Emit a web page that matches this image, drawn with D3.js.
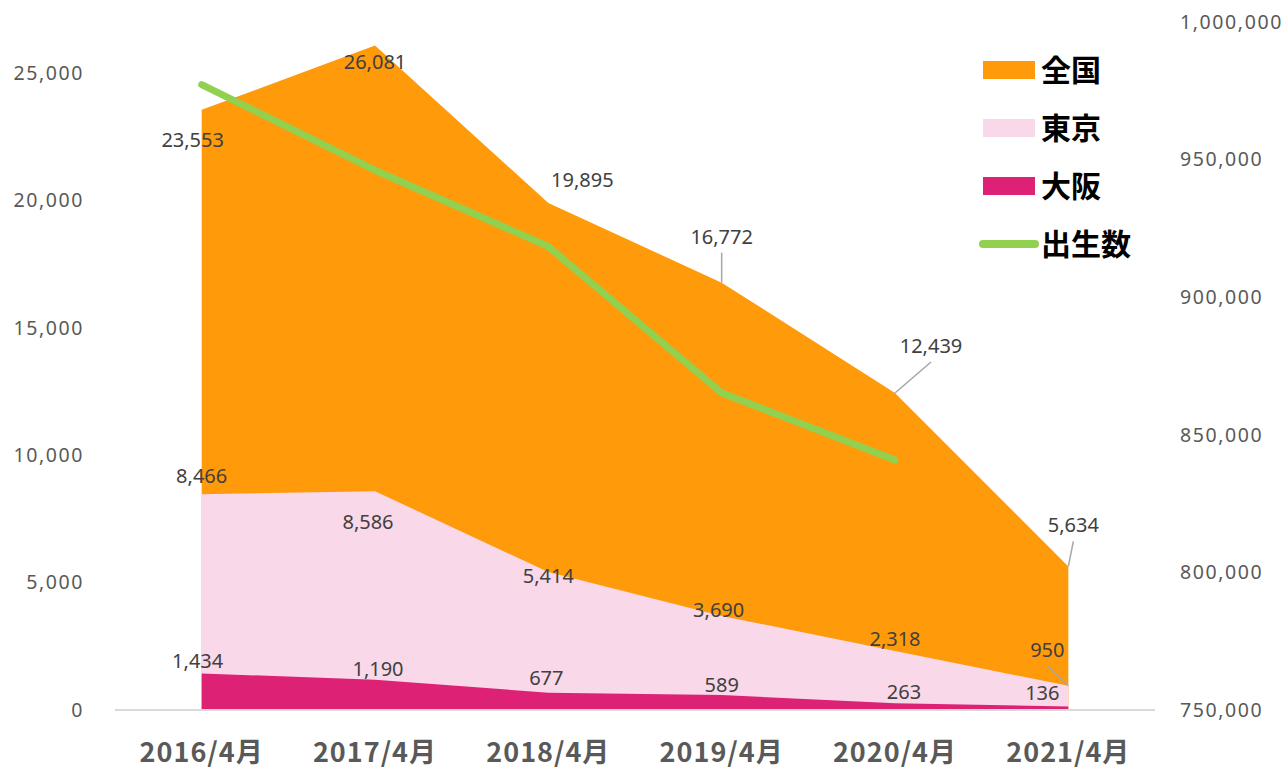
<!DOCTYPE html>
<html>
<head>
<meta charset="utf-8">
<script src="https://cdn.jsdelivr.net/npm/d3@7"></script>
<style>
  body { margin: 0; background: #fff; }
  .tick-label { font-family: "Noto Sans", sans-serif; font-size: 19.5px; fill: #595959; letter-spacing: 1.6px; }
  .data-label { font-family: "Noto Sans", sans-serif; font-size: 20px; fill: #404040; }
  .x-label { font-family: "Noto Sans CJK JP", sans-serif; font-size: 27px; font-weight: bold; fill: #595959; letter-spacing: 1px; }
  .legend-label { font-family: "Noto Sans CJK JP", sans-serif; font-size: 30px; font-weight: bold; fill: #000; }
</style>
</head>
<body>
<div class="chart"></div>
<script>
var months = ["2016/4月", "2017/4月", "2018/4月", "2019/4月", "2020/4月", "2021/4月"];
var zenkoku = [23553, 26081, 19895, 16772, 12439, 5634];
var tokyo = [8466, 8586, 5414, 3690, 2318, 950];
var osaka = [1434, 1190, 677, 589, 263, 136];
var births = [977242, 946146, 918400, 865239, 840835];
var leftTicks = [0, 5000, 10000, 15000, 20000, 25000];
var rightTicks = [750000, 800000, 850000, 900000, 950000, 1000000];

var width = 1284, height = 769;

var svg = d3.select(".chart").append("svg")
    .attr("width", width)
    .attr("height", height);

var x = d3.scalePoint()
    .domain(months)
    .range([115, 1155])
    .padding(0.5);

var y = d3.scaleLinear().domain([0, 27000]).range([710, 22]);
var y2 = d3.scaleLinear().domain([750000, 1000000]).range([710, 22]);

var fmt = d3.format(",");

// areas drawn on top of each other (not stacked)
var series = [
  { name: "全国", values: zenkoku, color: "#FF9A0B" },
  { name: "東京", values: tokyo, color: "#F9D8E9" },
  { name: "大阪", values: osaka, color: "#DD2275" }
];

var area = d3.area()
    .x(function(d, i) { return x(months[i]); })
    .y0(y(0))
    .y1(function(d) { return y(d); });

svg.append("g").attr("class", "areas")
  .selectAll("path")
  .data(series)
  .enter().append("path")
    .attr("d", function(d) { return area(d.values); })
    .attr("fill", function(d) { return d.color; });

// axis line
svg.append("line")
    .attr("x1", 115).attr("x2", 1155)
    .attr("y1", y(0)).attr("y2", y(0))
    .attr("stroke", "#D9D9D9")
    .attr("stroke-width", 2);

// left ticks
svg.append("g").selectAll("text")
  .data(leftTicks)
  .enter().append("text")
    .attr("class", "tick-label")
    .attr("x", 84)
    .attr("y", function(d) { return y(d); })
    .attr("dy", "0.35em")
    .attr("text-anchor", "end")
    .text(fmt);

// right ticks
svg.append("g").selectAll("text")
  .data(rightTicks)
  .enter().append("text")
    .attr("class", "tick-label")
    .attr("x", 1180)
    .attr("y", function(d) { return y2(d); })
    .attr("dy", "0.35em")
    .text(fmt);

// x labels
svg.append("g").selectAll("text")
  .data(months)
  .enter().append("text")
    .attr("class", "x-label")
    .attr("x", function(d) { return x(d); })
    .attr("y", 762)
    .attr("text-anchor", "middle")
    .text(function(d) { return d; });

// births line
var line = d3.line()
    .x(function(d, i) { return x(months[i]); })
    .y(function(d) { return y2(d); });

svg.append("path")
    .attr("d", line(births))
    .attr("fill", "none")
    .attr("stroke", "#92D050")
    .attr("stroke-width", 7)
    .attr("stroke-linecap", "round")
    .attr("stroke-linejoin", "round");

// label offsets [dx, dy, leader]
var zOff = [[-9, 30], [0, 17], [34, -23], [0, -46, 1], [36, -47, 1], [5, -41, 1]];
var tOff = [[0, -18], [-7, 31], [0, 4], [-3, -6], [0, -12], [-21, -36, 1]];
var oOff = [[-4, -12], [3, -11], [-2, -15], [0, -10], [9, -11], [-26, -14]];

function labels(values, offs) {
  var g = svg.append("g");
  values.forEach(function(v, i) {
    var px = x(months[i]), py = y(v);
    var o = offs[i];
    var lx = px + o[0], ly = py + o[1];
    if (o[2]) {
      g.append("line")
          .attr("x1", lx).attr("y1", ly + 16)
          .attr("x2", px).attr("y2", py)
          .attr("stroke", "#A6A6A6")
          .attr("stroke-width", 1.5);
    }
    g.append("text")
        .attr("class", "data-label")
        .attr("x", lx)
        .attr("y", ly)
        .attr("dy", "0.35em")
        .attr("text-anchor", "middle")
        .text(fmt(v));
  });
}
labels(zenkoku, zOff);
labels(tokyo, tOff);
labels(osaka, oOff);

// legend
var legend = svg.append("g").attr("class", "legend");
var legendItems = series.concat([{ name: "出生数", color: "#92D050", line: true }]);
legendItems.forEach(function(d, i) {
  var cy = 70 + i * 58;
  if (d.line) {
    legend.append("line")
        .attr("x1", 983).attr("x2", 1035)
        .attr("y1", cy).attr("y2", cy)
        .attr("stroke", d.color)
        .attr("stroke-width", 8)
        .attr("stroke-linecap", "round");
  } else {
    legend.append("rect")
        .attr("x", 983).attr("y", cy - 9)
        .attr("width", 52).attr("height", 18)
        .attr("fill", d.color);
  }
  legend.append("text")
      .attr("class", "legend-label")
      .attr("x", 1041)
      .attr("y", cy)
      .attr("dy", "0.36em")
      .text(d.name);
});
</script>
</body>
</html>
